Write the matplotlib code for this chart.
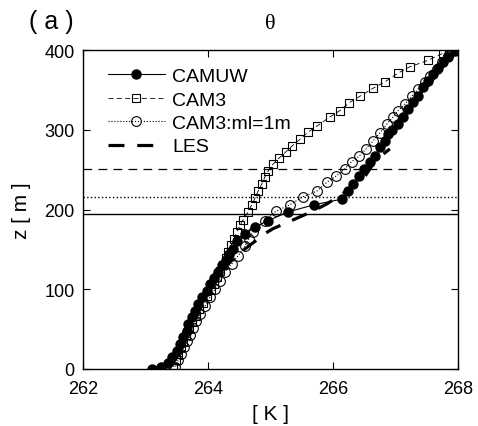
import numpy as np
import matplotlib.pyplot as plt

plt.rcParams['font.family'] = ['Liberation Sans', 'DejaVu Sans']

# CAMUW (filled circles)
z_uw = [0, 3, 8, 15, 23, 31, 40, 48, 56, 65, 73, 82, 90, 98, 106, 114, 122, 130,
        137, 144, 151, 160, 169, 178, 186, 197, 206, 213, 223, 232, 242, 251, 260,
        267, 278, 286, 295, 300, 307, 316, 326, 335, 342, 354, 361, 370, 377, 385,
        391, 399]
t_uw = [263.10, 263.25, 263.36, 263.42, 263.50, 263.55, 263.60, 263.66, 263.68,
        263.74, 263.79, 263.84, 263.90, 263.98, 264.03, 264.10, 264.16, 264.22,
        264.28, 264.34, 264.40, 264.47, 264.59, 264.75, 264.96, 265.28, 265.70,
        266.14, 266.24, 266.32, 266.42, 266.50, 266.59, 266.67, 266.75, 266.83,
        266.88, 266.94, 267.04, 267.12, 267.20, 267.28, 267.36, 267.44, 267.52,
        267.60, 267.68, 267.76, 267.84, 267.95]

# CAM3 (open squares)
z_c3 = [3, 11, 19, 27, 35, 43, 51, 59, 67, 75, 83, 91, 99, 107, 115, 123, 131, 139,
        147, 155, 163, 172, 180, 187, 197, 206, 214, 223, 232, 241, 248, 257, 264,
        272, 280, 288, 297, 305, 316, 324, 334, 342, 352, 360, 371, 379, 387, 396, 400]
t_c3 = [263.44, 263.48, 263.52, 263.56, 263.60, 263.65, 263.70, 263.75, 263.80,
        263.86, 263.92, 263.98, 264.04, 264.09, 264.14, 264.19, 264.24, 264.28,
        264.32, 264.37, 264.41, 264.46, 264.51, 264.56, 264.64, 264.70, 264.75,
        264.80, 264.86, 264.91, 264.96, 265.04, 265.13, 265.24, 265.35, 265.47,
        265.60, 265.75, 265.95, 266.11, 266.26, 266.43, 266.64, 266.83, 267.04,
        267.23, 267.52, 267.76, 267.86]

# CAM3:ml=1m (open circles)
z_ml = [3, 11, 19, 27, 35, 43, 51, 60, 69, 79, 90, 100, 110, 122, 132, 142, 154,
        163, 172, 186, 198, 206, 216, 223, 234, 242, 251, 260, 267, 276, 286, 296,
        307, 316, 324, 332, 342, 351, 360, 367, 376, 385, 392, 399]
t_ml = [263.47, 263.52, 263.56, 263.61, 263.66, 263.71, 263.76, 263.81, 263.87,
        263.95, 264.03, 264.11, 264.19, 264.27, 264.38, 264.48, 264.59, 264.65,
        264.72, 264.91, 265.09, 265.31, 265.52, 265.74, 265.90, 266.05, 266.19,
        266.30, 266.42, 266.53, 266.64, 266.75, 266.86, 266.96, 267.04, 267.15,
        267.26, 267.36, 267.47, 267.55, 267.66, 267.74, 267.84, 267.90]

# LES
z_les = [0, 40, 80, 110, 130, 144, 160, 167, 176, 188, 198, 207, 216, 232, 240, 257, 266, 276]
t_les = [263.30, 263.60, 263.90, 264.10, 264.30, 264.48, 264.75, 264.85, 265.04,
         265.39, 265.68, 265.90, 266.08, 266.38, 266.50, 266.64, 266.75, 266.91]

# boundary layer heights
h_uw = 194
h_c3 = 251
h_ml = 216

fig = plt.figure(figsize=(4.78, 4.27), dpi=100)
ax = fig.add_axes([0.174, 0.1335, 0.784, 0.747])

ax.plot(t_uw, z_uw, '-', color='k', lw=0.8, marker='o', ms=6.5, mfc='k', mec='k', label='CAMUW')
ax.plot(t_c3, z_c3, '--', color='k', lw=0.6, dashes=(6, 4), marker='s', ms=6, mfc='none', mec='k', mew=0.8, label='CAM3')
ax.plot(t_ml, z_ml, ':', color='k', lw=0.8, marker='o', ms=7, mfc='none', mec='k', mew=0.8, label='CAM3:ml=1m')
ax.plot(t_les, z_les, '--', color='k', lw=2.3, dashes=(5, 4), label='LES')

ax.axhline(h_uw, color='k', lw=1.0)
ax.axhline(h_c3, color='k', lw=0.9, dashes=(7, 5))
ax.axhline(h_ml, color='k', lw=1.0, ls=':')

ax.set_xlim(262, 268)
ax.set_ylim(0, 400)
ax.set_xticks([262, 264, 266, 268])
ax.set_yticks([0, 100, 200, 300, 400])
ax.tick_params(direction='in', top=True, right=True, length=5, labelsize=13)
ax.tick_params(axis='x', pad=8)
ax.tick_params(axis='y', pad=6)
for s in ax.spines.values():
    s.set_linewidth(1.0)

ax.set_xlabel('[ K ]', fontsize=15, labelpad=5)
ax.set_ylabel('z [ m ]', fontsize=15, labelpad=10)
ax.set_title('θ', fontsize=16, family=['Liberation Serif', 'DejaVu Serif'], pad=16)
fig.text(0.06, 0.948, '( a )', fontsize=18, va='center')

ax.legend(loc='upper left', frameon=False, fontsize=14, handlelength=2.9,
          handletextpad=0.4, labelspacing=0.3, borderaxespad=0.5, numpoints=1,
          bbox_to_anchor=(0.02, 1.0))

fig.savefig('out.png', dpi=100)
